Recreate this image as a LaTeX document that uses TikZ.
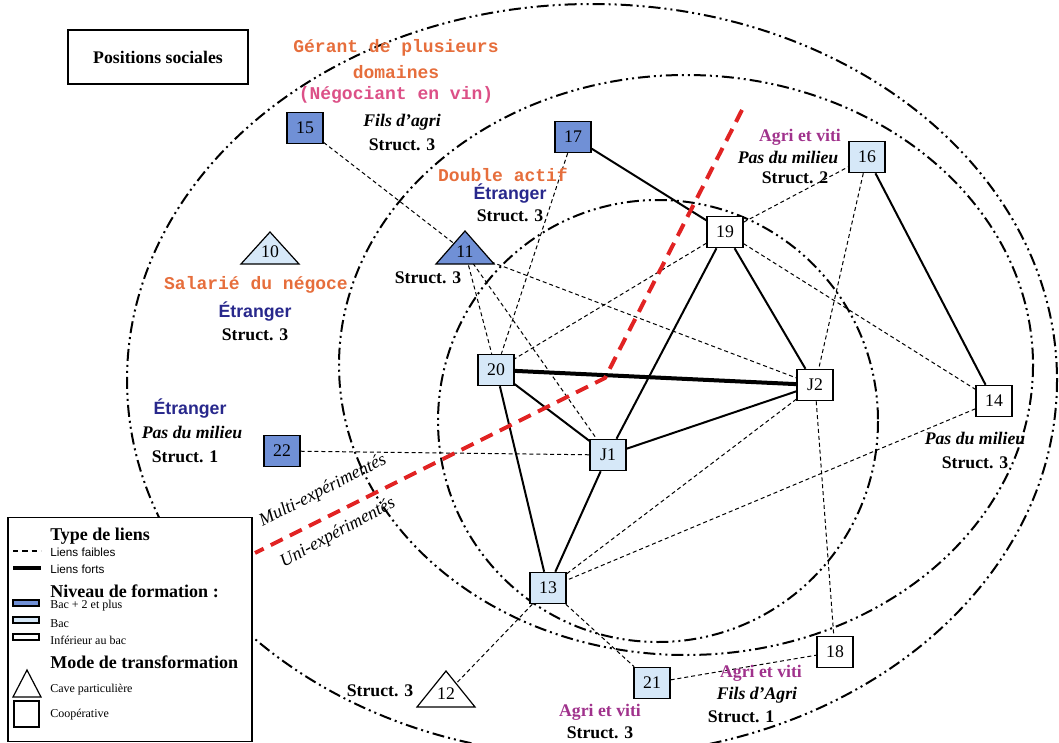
\documentclass[tikz,border=0pt]{standalone}
\usepackage{fontspec}
\setmainfont{Liberation Serif}
\newfontfamily\arialf{Liberation Sans}
\newfontfamily\courf{Liberation Mono}
\pgfdeclarelayer{bg}
\pgfsetlayers{bg,main}
\definecolor{dkblue}{RGB}{112,144,214}
\definecolor{ltblue}{RGB}{214,232,248}
\definecolor{orangeT}{RGB}{230,110,60}
\definecolor{pinkT}{RGB}{220,80,135}
\definecolor{navyT}{RGB}{40,40,140}
\definecolor{purpleT}{RGB}{160,50,140}
\definecolor{redL}{RGB}{225,35,35}
\tikzset{
  sq/.style={draw, line width=0.9pt, minimum width=27pt, minimum height=23.5pt, inner sep=0pt, font=\fontsize{13.3}{15}\selectfont},
  num/.style={inner sep=0pt, font=\fontsize{13.3}{15}\selectfont},
  tri/.style={draw, line width=0.9pt},
  weak/.style={line width=0.75pt, dash pattern=on 3pt off 2.2pt},
  strong/.style={line width=1.5pt},
  vstrong/.style={line width=3pt},
  ring/.style={line width=1.5pt, dash pattern=on 9pt off 3pt on 1.5pt off 3pt on 1.5pt off 3pt},
  redline/.style={redL, line width=3pt, dash pattern=on 10pt off 6pt},
  bold/.style={inner sep=0pt, font=\fontsize{13.3}{15}\selectfont\bfseries},
  bit/.style={inner sep=0pt, font=\fontsize{13.3}{15}\selectfont\bfseries\itshape},
  etr/.style={inner sep=0pt, text=navyT, font=\fontsize{13.3}{15}\selectfont\arialf\bfseries},
  cour/.style={inner sep=0pt, text=orangeT, font=\fontsize{13.5}{15}\selectfont\courf\bfseries},
  agri/.style={inner sep=0pt, text=purpleT, font=\fontsize{13.3}{15}\selectfont\bfseries},
  diag/.style={inner sep=0pt, font=\fontsize{13.5}{15}\selectfont\itshape},
  leghead/.style={anchor=west, inner sep=0pt, font=\fontsize{13.5}{15}\selectfont\bfseries},
  legsans/.style={anchor=west, inner sep=0pt, font=\fontsize{8.8}{10}\selectfont\arialf},
  legserif/.style={anchor=west, inner sep=0pt, font=\fontsize{9}{10}\selectfont},
}
\begin{document}
\begin{tikzpicture}[x=0.75pt,y=-0.75pt]
\useasboundingbox (0,0) rectangle (1059,742);

% dash-dot ellipses
\begin{pgfonlayer}{bg}
\draw[ring] (592,380) ellipse [x radius=465, y radius=376];
\draw[ring] (686,365) ellipse [x radius=347, y radius=290];
\draw[ring] (658,421) ellipse [x radius=220, y radius=221];
\end{pgfonlayer}

% Positions sociales
\node[draw, line width=1.5pt, fill=white, minimum width=135pt, minimum height=41pt, inner sep=0pt,
      font=\fontsize{13.3}{15}\selectfont\bfseries] (pos) at (158,57) {Positions sociales};

% square nodes
\node[sq, fill=dkblue] (n15) at (305,128) {15};
\node[sq, fill=dkblue] (n17) at (573,137) {17};
\node[sq, fill=ltblue] (n16) at (867,157) {16};
\node[sq, fill=white]  (n19) at (725,232) {19};
\node[sq, fill=ltblue] (n20) at (496,370) {20};
\node[sq, fill=white]  (nJ2) at (815,385) {J2};
\node[sq, fill=white]  (n14) at (994,401) {14};
\node[sq, fill=dkblue] (n22) at (282,451) {22};
\node[sq, fill=ltblue] (nJ1) at (608,455) {J1};
\node[sq, fill=ltblue] (n13) at (548,588) {13};
\node[sq, fill=white]  (n18) at (835,652) {18};
\node[sq, fill=ltblue] (n21) at (652,683) {21};

% triangle nodes
\filldraw[tri, fill=dkblue] (436,264) -- (465,231) -- (494,264) -- cycle;
\node[num] (n11) at (465,252) {11};
\filldraw[tri, fill=ltblue] (241,264) -- (270,232) -- (299,264) -- cycle;
\node[num] (n10) at (270,252) {10};
\filldraw[tri, fill=white] (417,707) -- (446,671) -- (475,707) -- cycle;
\node[num] (n12) at (446,694) {12};

% connectors
\begin{pgfonlayer}{bg}
\draw[weak] (n15) -- (n11.center);
\draw[weak] (n17) -- (n20);
\draw[weak] (n11.center) -- (n20);
\draw[weak] (n11.center) -- (nJ1);
\draw[weak] (n11.center) -- (nJ2);
\draw[weak] (n19) -- (n20);
\draw[weak] (n19) -- (n16);
\draw[weak] (n19) -- (n14);
\draw[weak] (n16) -- (nJ2);
\draw[weak] (n22) -- (nJ1);
\draw[weak] (nJ2) -- (n13);
\draw[weak] (n14) -- (n13);
\draw[weak] (nJ2) -- (n18);
\draw[weak] (n13) -- (n12.center);
\draw[weak] (n13) -- (n21);
\draw[weak] (n21) -- (n18);
\draw[strong] (n17) -- (n19);
\draw[strong] (n16) -- (n14);
\draw[strong] (n19) -- (nJ1);
\draw[strong] (n19) -- (nJ2);
\draw[strong] (n20) -- (nJ1);
\draw[strong] (n20) -- (n13);
\draw[strong] (nJ1) -- (nJ2);
\draw[strong] (nJ1) -- (n13);
\draw[vstrong] (n20) -- (nJ2);
\end{pgfonlayer}

% red separation line
\coordinate (r1) at (742,110);
\coordinate (r2) at (605,378);
\coordinate (r3) at (255,553);
\draw[redline] (r1) -- (r2) -- (r3);
\node[diag, rotate=27] (multi) at (323,491) {Multi-expérimentés};
\node[diag, rotate=28.5] (uni) at (338,533) {Uni-expérimentés};

% labels
\node[cour] (g1) at (396,48) {Gérant de plusieurs};
\node[cour] (g2) at (396,72) {domaines};
\node[cour, text=pinkT] (g3) at (396,95) {(Négociant en vin)};
\node[bit] (l15a) at (402,122) {Fils d’agri};
\node[bold] (l15b) at (402,145) {Struct. 3};

\node[cour] (l11a) at (503,175) {Double actif};
\node[etr] (l11b) at (510,194) {Étranger};
\node[bold] (l11c) at (510,216) {Struct. 3};
\node[bold] (l11d) at (428,278) {Struct. 3};

\node[cour] (l10a) at (256,285) {Salarié du négoce};
\node[etr] (l10b) at (255,312) {Étranger};
\node[bold] (l10c) at (255,335) {Struct. 3};

\node[agri] (l16a) at (800,137) {Agri et viti};
\node[bit] (l16b) at (788,157) {Pas du milieu};
\node[bold] (l16c) at (795,178) {Struct. 2};

\node[bit] (l14a) at (975,438) {Pas du milieu};
\node[bold] (l14b) at (975,463) {Struct. 3};

\node[etr] (l22a) at (190,409) {Étranger};
\node[bit] (l22b) at (192,432) {Pas du milieu};
\node[bold] (l22c) at (185,457) {Struct. 1};

\node[bold] (l12) at (380,691) {Struct. 3};

\node[agri] (l18a) at (761,673) {Agri et viti};
\node[bit] (l18b) at (757,695) {Fils d’Agri};
\node[bold] (l18c) at (741,717) {Struct. 1};

\node[agri] (l21a) at (600,712) {Agri et viti};
\node[bold] (l21b) at (600,733) {Struct. 3};

% legend
\node[draw, line width=1.2pt, fill=white, minimum width=183pt, minimum height=168pt, inner sep=0pt] (leg) at (130,629.5) {};
\node[leghead] (lt1) at (50,536) {Type de liens};
\coordinate (ld1) at (13,551); \coordinate (ld2) at (41,551);
\draw[line width=1.5pt, dash pattern=on 4pt off 3pt] (ld1) -- (ld2);
\node[legsans] (lt2) at (50,552) {Liens faibles};
\coordinate (ls1) at (13,568); \coordinate (ls2) at (41,568);
\draw[line width=3pt] (ls1) -- (ls2);
\node[legsans] (lt3) at (50,569) {Liens forts};
\node[leghead] (lt4) at (50,591) {Niveau de formation :};
\draw[line width=0.9pt, fill=dkblue] (13,600) rectangle (39,606);
\node[legserif] (lt5) at (50,606) {Bac + 2 et plus};
\draw[line width=0.9pt, fill=ltblue] (13,617) rectangle (39,623);
\node[legserif] (lt6) at (50,624) {Bac};
\draw[line width=0.9pt, fill=white] (13,634) rectangle (39,640);
\node[legserif] (lt7) at (50,640) {Inférieur au bac};
\node[leghead] (lt8) at (50,662) {Mode de transformation};
\draw[line width=0.9pt] (13,697) -- (27,670) -- (41,697) -- cycle;
\node[legserif] (lt9) at (50,690) {Cave particulière};
\draw[line width=0.9pt] (14,701) rectangle (39,727);
\node[legserif] (lt10) at (50,715) {Coopérative};
\end{tikzpicture}
\end{document}
